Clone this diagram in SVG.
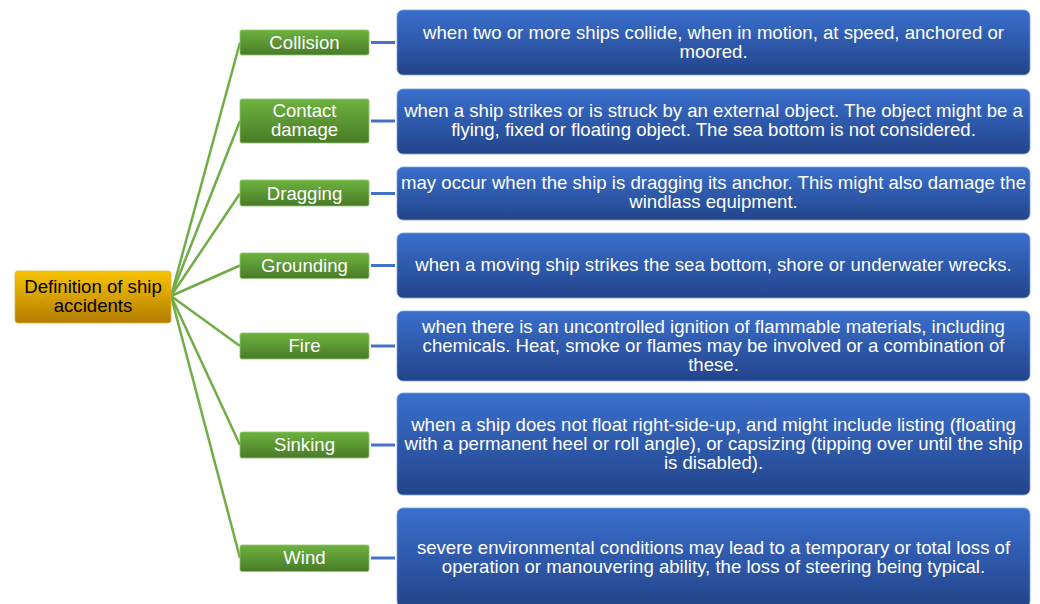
<svg xmlns="http://www.w3.org/2000/svg" width="1040" height="604" viewBox="0 0 1040 604">
<defs>
<linearGradient id="gGreen" x1="0" y1="0" x2="0" y2="1">
<stop offset="0" stop-color="#6db33f"/><stop offset="1" stop-color="#4a7a28"/>
</linearGradient>
<linearGradient id="gBlue" x1="0" y1="0" x2="0" y2="1">
<stop offset="0" stop-color="#3a6fcd"/><stop offset="1" stop-color="#23448a"/>
</linearGradient>
<linearGradient id="gGold" x1="0" y1="0" x2="0" y2="1">
<stop offset="0" stop-color="#f9c400"/><stop offset="1" stop-color="#b37d00"/>
</linearGradient>
</defs>
<style>
.green{fill:url(#gGreen);stroke:#8fc46a;stroke-width:0.8}
.blue{fill:url(#gBlue);stroke:#7f9fd8;stroke-width:0.8}
.gold{fill:url(#gGold);stroke:#e0b040;stroke-width:0.8}
.t{font-family:"Liberation Sans",Arial,sans-serif;font-size:18.6px;text-anchor:middle;fill:#fff}
.tr{font-family:"Liberation Sans",Arial,sans-serif;font-size:18.6px;text-anchor:middle;fill:#000}
.cg{stroke:#70ad47;stroke-width:2.5;fill:none}
.cb{stroke:#4472c4;stroke-width:3;fill:none}
</style>
<rect width="1040" height="604" fill="#fff"/>
<g id="connectors">
<line class="cg" x1="171" y1="296" x2="240" y2="42.5"/>
<line class="cg" x1="171" y1="296" x2="240" y2="121"/>
<line class="cg" x1="171" y1="296" x2="240" y2="193.5"/>
<line class="cg" x1="171" y1="296" x2="240" y2="265.5"/>
<line class="cg" x1="171" y1="296" x2="240" y2="346"/>
<line class="cg" x1="171" y1="296" x2="240" y2="445"/>
<line class="cg" x1="171" y1="296" x2="240" y2="558"/>
<line class="cb" x1="371" y1="42.5" x2="395" y2="42.5"/>
<line class="cb" x1="371" y1="121" x2="395" y2="121"/>
<line class="cb" x1="371" y1="193.5" x2="395" y2="193.5"/>
<line class="cb" x1="371" y1="265.5" x2="395" y2="265.5"/>
<line class="cb" x1="371" y1="346" x2="395" y2="346"/>
<line class="cb" x1="371" y1="445" x2="395" y2="445"/>
<line class="cb" x1="371" y1="558" x2="395" y2="558"/>
</g>
<g id="root">
<rect class="gold" x="15" y="271" width="156" height="52" rx="3"/>
<text class="tr" x="93" y="293">Definition of ship</text>
<text class="tr" x="93" y="312">accidents</text>
</g>
<g id="collision">
<rect class="green" x="240" y="30" width="129" height="25" rx="2"/>
<text class="t" x="304.5" y="48.5">Collision</text>
</g>
<g id="contact">
<rect class="green" x="240" y="99" width="129" height="44" rx="2"/>
<text class="t" x="304.5" y="117">Contact</text>
<text class="t" x="304.5" y="136">damage</text>
</g>
<g id="dragging">
<rect class="green" x="240" y="180" width="129" height="26" rx="2"/>
<text class="t" x="304.5" y="199.5">Dragging</text>
</g>
<g id="grounding">
<rect class="green" x="240" y="253" width="129" height="25.5" rx="2"/>
<text class="t" x="304.5" y="271.5">Grounding</text>
</g>
<g id="fire">
<rect class="green" x="240" y="333" width="129" height="26" rx="2"/>
<text class="t" x="304.5" y="352">Fire</text>
</g>
<g id="sinking">
<rect class="green" x="240" y="432" width="129" height="26" rx="2"/>
<text class="t" x="304.5" y="451">Sinking</text>
</g>
<g id="wind">
<rect class="green" x="240" y="545" width="129" height="26.5" rx="2"/>
<text class="t" x="304.5" y="564">Wind</text>
</g>
<g id="d-collision">
<rect class="blue" x="397" y="10" width="633" height="65" rx="6"/>
<text class="t" x="713.5" y="38.5">when two or more ships collide, when in motion, at speed, anchored or</text>
<text class="t" x="713.5" y="57.5">moored.</text>
</g>
<g id="d-contact">
<rect class="blue" x="397" y="89" width="633" height="65" rx="6"/>
<text class="t" x="713.5" y="116.5">when a ship strikes or is struck by an external object. The object might be a</text>
<text class="t" x="713.5" y="135.5">flying, fixed or floating object. The sea bottom is not considered.</text>
</g>
<g id="d-dragging">
<rect class="blue" x="397" y="167" width="633" height="53" rx="6"/>
<text class="t" x="713.5" y="188.5">may occur when the ship is dragging its anchor. This might also damage the</text>
<text class="t" x="713.5" y="207.5">windlass equipment.</text>
</g>
<g id="d-grounding">
<rect class="blue" x="397" y="233" width="633" height="65" rx="6"/>
<text class="t" x="713.5" y="271">when a moving ship strikes the sea bottom, shore or underwater wrecks.</text>
</g>
<g id="d-fire">
<rect class="blue" x="397" y="311" width="633" height="70" rx="6"/>
<text class="t" x="713.5" y="332.5">when there is an uncontrolled ignition of flammable materials, including</text>
<text class="t" x="713.5" y="351.5">chemicals. Heat, smoke or flames may be involved or a combination of</text>
<text class="t" x="713.5" y="370.5">these.</text>
</g>
<g id="d-sinking">
<rect class="blue" x="397" y="393" width="633" height="102" rx="6"/>
<text class="t" x="713.5" y="430.5">when a ship does not float right-side-up, and might include listing (floating</text>
<text class="t" x="713.5" y="449.5">with a permanent heel or roll angle), or capsizing (tipping over until the ship</text>
<text class="t" x="713.5" y="468.5">is disabled).</text>
</g>
<g id="d-wind">
<rect class="blue" x="397" y="508" width="633" height="99" rx="6"/>
<text class="t" x="713.5" y="553.5">severe environmental conditions may lead to a temporary or total loss of</text>
<text class="t" x="713.5" y="572.5">operation or manouvering ability, the loss of steering being typical.</text>
</g>
</svg>
